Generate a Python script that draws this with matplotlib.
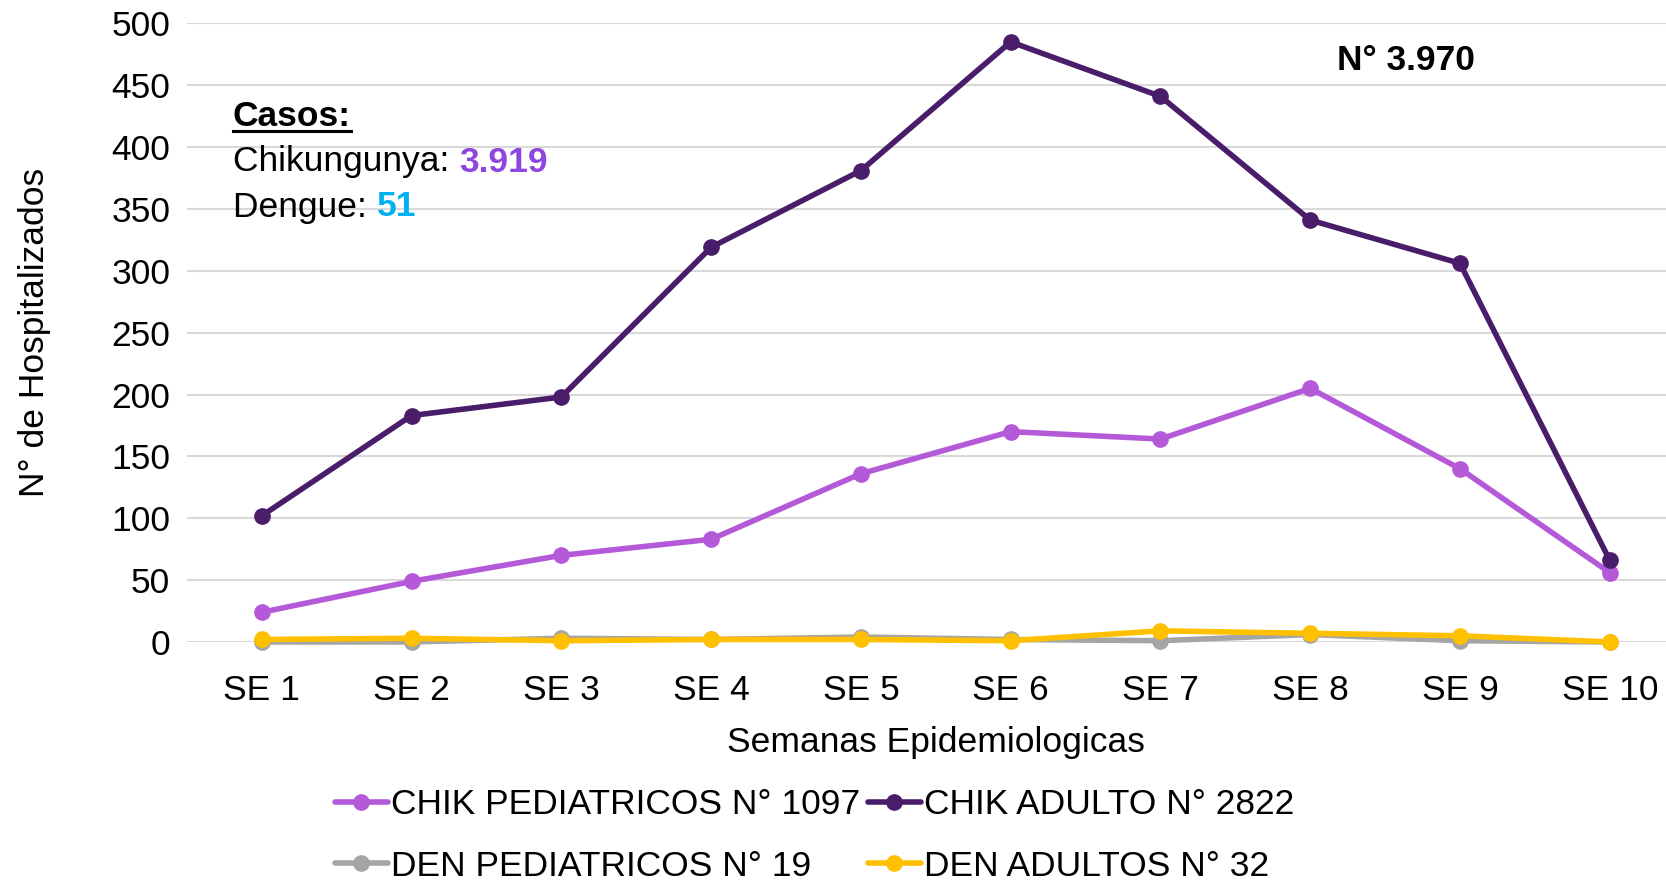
import matplotlib
matplotlib.use("Agg")
import matplotlib.pyplot as plt
from matplotlib.lines import Line2D
from matplotlib import font_manager

weeks = ["SE 1", "SE 2", "SE 3", "SE 4", "SE 5", "SE 6", "SE 7", "SE 8", "SE 9", "SE 10"]
chik_ped = [24, 49, 70, 83, 136, 170, 164, 205, 140, 56]
chik_adult = [102, 183, 198, 319, 381, 485, 441, 341, 306, 66]
den_ped = [0, 0, 3, 2, 4, 2, 1, 6, 1, 0]
den_adult = [2, 3, 1, 2, 2, 1, 9, 7, 5, 0]

labels = ["CHIK PEDIATRICOS N° 1097", "CHIK ADULTO N° 2822",
          "DEN PEDIATRICOS N° 19", "DEN ADULTOS N° 32"]
colors = ["#B45AD9", "#4A1D6A", "#A5A5A5", "#FFC000"]

names = [f.name for f in font_manager.fontManager.ttflist]
if "Liberation Sans Narrow" in names:
    plt.rcParams['font.family'] = ['Liberation Sans Narrow', 'DejaVu Sans']
else:
    plt.rcParams['font.family'] = ['Liberation Sans', 'DejaVu Sans']

fs = 25.5

fig = plt.figure(figsize=(16.66, 8.84), dpi=100)
ax = fig.add_axes([0.1122, 0.2738, 0.899, 0.6998])

x = list(range(len(weeks)))
lines = []
for vals, c, lab in zip([chik_ped, chik_adult, den_ped, den_adult], colors, labels):
    ln, = ax.plot(x, vals, color=c, lw=4, marker="o", ms=11, label=lab,
                  solid_capstyle="round", clip_on=False)
    lines.append(ln)

ax.set_xlim(-0.5, len(weeks) - 0.5)
ax.set_ylim(0, 500)
ax.set_yticks(range(0, 501, 50))
ax.set_xticks(x)
ax.set_xticklabels(weeks)
ax.tick_params(axis="both", length=0, labelsize=fs)
ax.tick_params(axis="x", pad=23)
ax.tick_params(axis="y", pad=12)
ax.grid(axis="y", color="#D9D9D9", lw=1.5)
ax.set_axisbelow(True)
for s in ax.spines.values():
    s.set_visible(False)

ax.set_xlabel("Semanas Epidemiologicas", fontsize=fs, labelpad=14)
ax.set_ylabel("N° de Hospitalizados", fontsize=fs)
ax.yaxis.set_label_coords(-0.091, 0.5)

# legend: row 1 chik, row 2 dengue
order = [0, 2, 1, 3]
fig.legend([lines[i] for i in order], [labels[i] for i in order],
           loc="center", bbox_to_anchor=(0.489, 0.055), ncol=2, frameon=False,
           fontsize=fs, handlelength=1.5, handletextpad=0.1, columnspacing=0.2,
           labelspacing=0.8, borderpad=0)

# annotations
t_casos = fig.text(233 / 1666, 1 - 117 / 884, "Casos:", fontsize=fs, fontweight="bold",
                   va="center", ha="left")
t_chik = fig.text(233 / 1666, 1 - 162 / 884, "Chikungunya: ", fontsize=fs,
                  va="center", ha="left")
t_den = fig.text(233 / 1666, 1 - 207 / 884, "Dengue: ", fontsize=fs,
                 va="center", ha="left")
fig.text(1406 / 1666, 1 - 61 / 884, "N° 3.970", fontsize=fs, fontweight="bold",
         va="center", ha="center")

fig.canvas.draw()
r = fig.canvas.get_renderer()
inv = fig.transFigure.inverted()
bb = t_casos.get_window_extent(r)
(x0, y0), (x1, y1) = inv.transform([(bb.x0, bb.y0 + 2), (bb.x1, bb.y0 + 2)])
fig.add_artist(Line2D([x0, x1], [y0, y1], color="black", lw=2.2, transform=fig.transFigure))
bb = t_chik.get_window_extent(r)
xe, _ = inv.transform((bb.x1, bb.y0))
fig.text(xe, 1 - 162 / 884, "3.919", fontsize=fs, fontweight="bold", color="#8E46E0",
         va="center", ha="left")
bb = t_den.get_window_extent(r)
xe, _ = inv.transform((bb.x1, bb.y0))
fig.text(xe, 1 - 207 / 884, "51", fontsize=fs, fontweight="bold", color="#00B0F0",
         va="center", ha="left")

fig.savefig("out.png", dpi=100)
